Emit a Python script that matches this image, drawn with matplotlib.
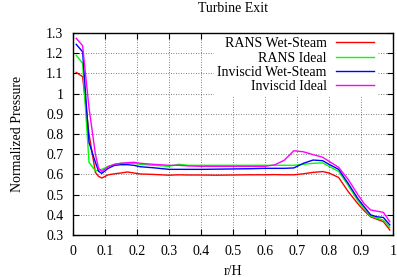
import matplotlib
matplotlib.use("Agg")
import matplotlib.pyplot as plt

plt.rcParams['font.family'] = ['Liberation Serif', 'DejaVu Serif']

r_h = [0.01, 0.03, 0.05, 0.07, 0.08, 0.09, 0.11, 0.13, 0.15, 0.17, 0.19, 0.21,
       0.25, 0.30, 0.33, 0.36, 0.40, 0.45, 0.50, 0.55, 0.60, 0.63, 0.66, 0.69,
       0.72, 0.75, 0.78, 0.80, 0.83, 0.86, 0.89, 0.91, 0.93, 0.95, 0.97, 0.99]

rans_wet = [1.105, 1.084, 0.80, 0.61, 0.59, 0.582, 0.598, 0.603, 0.607, 0.612, 0.607, 0.602,
            0.600, 0.596, 0.598, 0.597, 0.597, 0.596, 0.597, 0.598, 0.598, 0.599, 0.598, 0.598,
            0.603, 0.610, 0.614, 0.607, 0.585, 0.515, 0.455, 0.420, 0.390, 0.378, 0.366, 0.325]
rans_ideal = [1.19, 1.15, 0.66, 0.618, 0.620, 0.625, 0.640, 0.650, 0.655, 0.655, 0.655, 0.650,
              0.645, 0.640, 0.650, 0.645, 0.645, 0.645, 0.645, 0.645, 0.645, 0.645, 0.645, 0.645,
              0.650, 0.655, 0.657, 0.640, 0.615, 0.545, 0.470, 0.430, 0.394, 0.383, 0.374, 0.338]
inv_wet = [1.244, 1.207, 0.758, 0.660, 0.615, 0.605, 0.630, 0.645, 0.648, 0.648, 0.645, 0.638,
           0.633, 0.625, 0.625, 0.625, 0.625, 0.626, 0.627, 0.628, 0.630, 0.630, 0.630, 0.632,
           0.655, 0.671, 0.668, 0.650, 0.625, 0.555, 0.480, 0.440, 0.400, 0.390, 0.387, 0.350]
inv_ideal = [1.274, 1.237, 0.93, 0.70, 0.630, 0.615, 0.638, 0.650, 0.655, 0.658, 0.660, 0.655,
             0.650, 0.645, 0.645, 0.642, 0.640, 0.640, 0.640, 0.640, 0.640, 0.647, 0.670, 0.717,
             0.712, 0.698, 0.685, 0.665, 0.635, 0.575, 0.500, 0.455, 0.424, 0.418, 0.412, 0.366]

fig = plt.figure(figsize=(3.97, 2.77), dpi=100)
ax = fig.add_axes([73/397, 42/277, 320/397, 202/277])

ax.plot(r_h, rans_wet, color='#ff0000', lw=1, label='RANS Wet-Steam')
ax.plot(r_h, rans_ideal, color='#00ff00', lw=1, label='RANS Ideal')
ax.plot(r_h, inv_wet, color='#0000ff', lw=1, label='Inviscid Wet-Steam')
ax.plot(r_h, inv_ideal, color='#ff00ff', lw=1, label='Inviscid Ideal')

ax.set_xlim(0, 1)
ax.set_ylim(0.3, 1.3)
ax.set_xticks([0, 0.1, 0.2, 0.3, 0.4, 0.5, 0.6, 0.7, 0.8, 0.9, 1])
ax.set_xticklabels(['0', '0.1', '0.2', '0.3', '0.4', '0.5', '0.6', '0.7', '0.8', '0.9', '1'])
ax.set_yticks([0.3, 0.4, 0.5, 0.6, 0.7, 0.8, 0.9, 1.0, 1.1, 1.2, 1.3])
ax.set_yticklabels(['0.3', '0.4', '0.5', '0.6', '0.7', '0.8', '0.9', '1', '1.1', '1.2', '1.3'])
ax.tick_params(direction='in', length=4, width=0.8, top=True, right=True,
               labelsize=10, pad=7, colors='black')
ax.grid(True, color='#555555', linestyle=(0, (1, 2)), lw=0.6)
for s in ax.spines.values():
    s.set_linewidth(1.0)

ax.set_title('Turbine Exit', fontsize=10, pad=15)
ax.set_xlabel('r/H', fontsize=10, labelpad=5)
ax.set_ylabel('Normalized Pressure', fontsize=10, labelpad=16)

# gnuplot-style key: text right-aligned, sample line on the right
leg = ax.legend(loc='upper right', bbox_to_anchor=(0.955, 1.0), markerfirst=False,
                fontsize=10, frameon=True, fancybox=False, framealpha=1,
                edgecolor='white', facecolor='white',
                handlelength=2.8, handletextpad=0.65, labelspacing=0.1,
                borderaxespad=0.1, borderpad=0.2)
leg.set_zorder(1.5)

fig.savefig('out.png', dpi=100)
